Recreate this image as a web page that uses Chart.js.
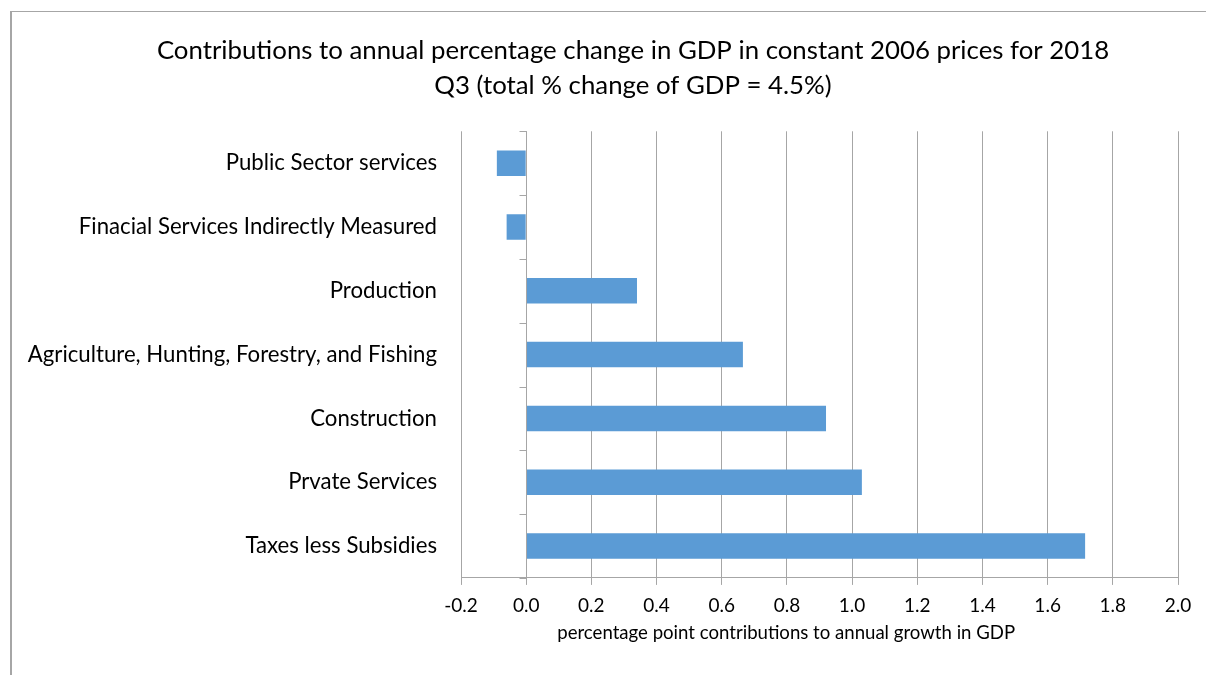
<!DOCTYPE html>
<html>
<head>
<meta charset="utf-8">
<script src="https://cdn.jsdelivr.net/npm/chart.js@4"></script>
<style>
  html, body { margin: 0; padding: 0; background: #fff; overflow: hidden; }
  #wrap { position: relative; width: 1206px; height: 675px; overflow: hidden; }
  #frame { position: absolute; left: 10px; top: 11px; width: 1300px; height: 800px;
           border-top: 1px solid #a6a6a6; border-left: 2px solid #a6a6a6; pointer-events: none; }
  #gdp_chart { position: absolute; left: 0; top: 0; }
</style>
</head>
<body>
<div id="wrap">
  <canvas id="gdp_chart" width="1206" height="675" style="width:1206px;height:675px"></canvas>
  <div id="frame"></div>
</div>
<script>
var sectors = [
    "Public Sector services",
    "Finacial Services Indirectly Measured",
    "Production",
    "Agriculture, Hunting, Forestry, and Fishing",
    "Construction",
    "Prvate Services",
    "Taxes less Subsidies"
];
var contributions = [-0.09, -0.06, 0.34, 0.665, 0.92, 1.03, 1.715];
var x_ticks = [-0.2, 0.0, 0.2, 0.4, 0.6, 0.8, 1.0, 1.2, 1.4, 1.6, 1.8, 2.0];

var grid_grey = "#a6a6a6";
var text_dark = "#000000";

// zero line with category tick marks, like the spreadsheet's vertical axis
var zeroAxisPlugin = {
    id: 'zeroAxis',
    afterLayout: function (chart) {
        // the title is centred on the whole chart frame, not the padded canvas
        if (chart.titleBlock) {
            chart.titleBlock.left += 32;
            chart.titleBlock.right += 32;
        }
    },
    afterDatasetsDraw: function (chart) {
        var x = chart.scales.x;
        var y = chart.scales.y;
        var c = chart.ctx;
        var x0 = Math.round(x.getPixelForValue(0)) + 0.5;
        c.save();
        c.strokeStyle = grid_grey;
        c.lineWidth = 1;
        c.beginPath();
        c.moveTo(x0, y.top);
        c.lineTo(x0, y.bottom);
        for (var i = 0; i <= sectors.length; i++) {
            var py;
            if (i === 0) py = y.top;
            else if (i === sectors.length) py = y.bottom;
            else py = (y.getPixelForValue(i - 1) + y.getPixelForValue(i)) / 2;
            py = Math.round(py) + 0.5;
            c.moveTo(x0 - 7, py);
            c.lineTo(x0, py);
        }
        c.stroke();
        c.restore();
    }
};

function buildGdpChart() {
    var ctx = document.getElementById('gdp_chart');
    var gdpChart = new Chart(ctx, {
        type: 'bar',
        data: {
            labels: sectors,
            datasets: [{
                label: "Contribution",
                data: contributions,
                backgroundColor: "#5B9BD5",
                borderWidth: 0,
                categoryPercentage: 1.0,
                barPercentage: 0.4
            }]
        },
        options: {
            indexAxis: 'y',
            responsive: false,
            animation: false,
            layout: {
                padding: { top: 33, right: 28, bottom: 32.2, left: 24 }
            },
            plugins: {
                legend: { display: false },
                tooltip: { enabled: false },
                title: {
                    display: true,
                    text: ['Contributions to annual percentage change in GDP in constant 2006 prices for 2018',
                           'Q3 (total % change of GDP = 4.5%)'],
                    color: text_dark,
                    font: { family: 'Lato', size: 25.8, weight: 'normal', lineHeight: 1.37 },
                    padding: { top: 0, bottom: 27.6 }
                }
            },
            scales: {
                x: {
                    type: 'linear',
                    min: -0.2,
                    max: 2.0,
                    afterBuildTicks: function (axis) {
                        axis.ticks = x_ticks.map(function (v) { return { value: v }; });
                    },
                    grid: {
                        color: grid_grey,
                        lineWidth: 1,
                        tickLength: 7,
                        drawTicks: true
                    },
                    border: { display: true, color: grid_grey, width: 1 },
                    ticks: {
                        color: text_dark,
                        font: { family: 'Lato', size: 19, lineHeight: 1.0 },
                        padding: 11,
                        callback: function (value) { return Number(value).toFixed(1); }
                    },
                    title: {
                        display: true,
                        text: 'percentage point contributions to annual growth in GDP              ',
                        color: text_dark,
                        font: { family: 'Lato', size: 18.6, lineHeight: 0.8 },
                        padding: { top: 0, bottom: 2 }
                    }
                },
                y: {
                    type: 'category',
                    position: 'left',
                    grid: { display: false },
                    border: { display: false },
                    afterFit: function (axis) { axis.width = 437; },
                    ticks: {
                        color: text_dark,
                        font: { family: 'Lato', size: 22.2 },
                        padding: 16
                    }
                }
            }
        },
        plugins: [zeroAxisPlugin]
    });
}

buildGdpChart();
</script>
</body>
</html>
